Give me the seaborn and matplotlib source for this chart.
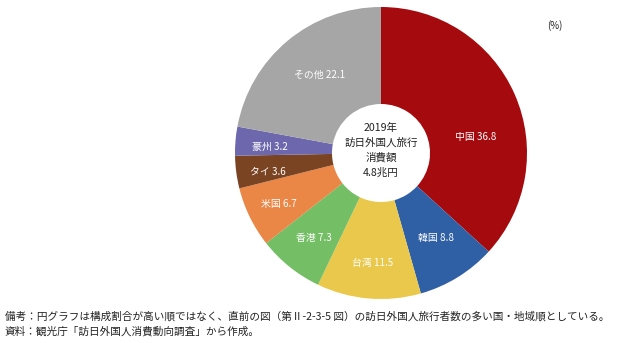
import matplotlib
matplotlib.use("Agg")
import matplotlib.pyplot as plt
import seaborn as sns

# Visitor spending share by country/region (%)
regions = ["中国", "韓国", "台湾", "香港", "米国", "タイ", "豪州", "その他"]
shares = [36.8, 8.8, 11.5, 7.3, 6.7, 3.6, 3.2, 22.1]
colors = ["#A50A0E", "#2F5FA4", "#E9C84B", "#74BE66", "#EA8646",
          "#7A4423", "#6D68AE", "#A6A6A6"]

center_lines = ["2019年", "訪日外国人旅行", "消費額", "4.8兆円"]
note_lines = [
    "備考：円グラフは構成割合が高い順ではなく、直前の図（第Ⅱ-2-3-5 図）の訪日外国人旅行者数の多い国・地域順としている。",
    "資料：観光庁「訪日外国人消費動向調査」から作成。",
]

# label anchor points inside each wedge (pixels from top-left of figure)
label_px = [(476, 137), (436, 238), (373, 263), (314, 238),
            (279, 204), (268, 172), (270, 147), (320, 75)]

sns.set_theme(style="white")
plt.rcParams["font.family"] = ["Noto Sans CJK JP", "DejaVu Sans"]

W, H = 619, 343
fig = plt.figure(figsize=(W / 100, H / 100), dpi=100)
fig.patch.set_facecolor("white")

# pie axes placed in pixel space: centre (381,153), radius 146
cx, cy, r = 381, 153, 146
ax = fig.add_axes([(cx - r) / W, (H - cy - r) / H, 2 * r / W, 2 * r / H])

inner = 49 / 146
ax.pie(shares, colors=colors, startangle=90, counterclock=False,
       radius=1.0, wedgeprops=dict(width=1 - inner, linewidth=0))
ax.set_xlim(-1, 1)
ax.set_ylim(-1, 1)
ax.set_aspect("equal")
ax.axis("off")

for name, val, (px, py) in zip(regions, shares, label_px):
    ax.text((px - cx) / r, (cy - py) / r, f"{name} {val}",
            ha="center", va="center", color="white", fontsize=7.1)

ax.text(0, (cy - 150) / r, "\n".join(center_lines), ha="center", va="center",
        fontsize=7.6, color="#222222", linespacing=1.55)

fig.text(555 / W, 1 - 26 / H, "(%)", ha="center", va="center",
         fontsize=7, color="#222222")

fig.text(5 / W, 1 - 316 / H, note_lines[0], ha="left", va="center",
         fontsize=7.65, color="#222222")
fig.text(5 / W, 1 - 331 / H, note_lines[1], ha="left", va="center",
         fontsize=7.65, color="#222222")

fig.savefig("out.png", dpi=100, facecolor="white")
